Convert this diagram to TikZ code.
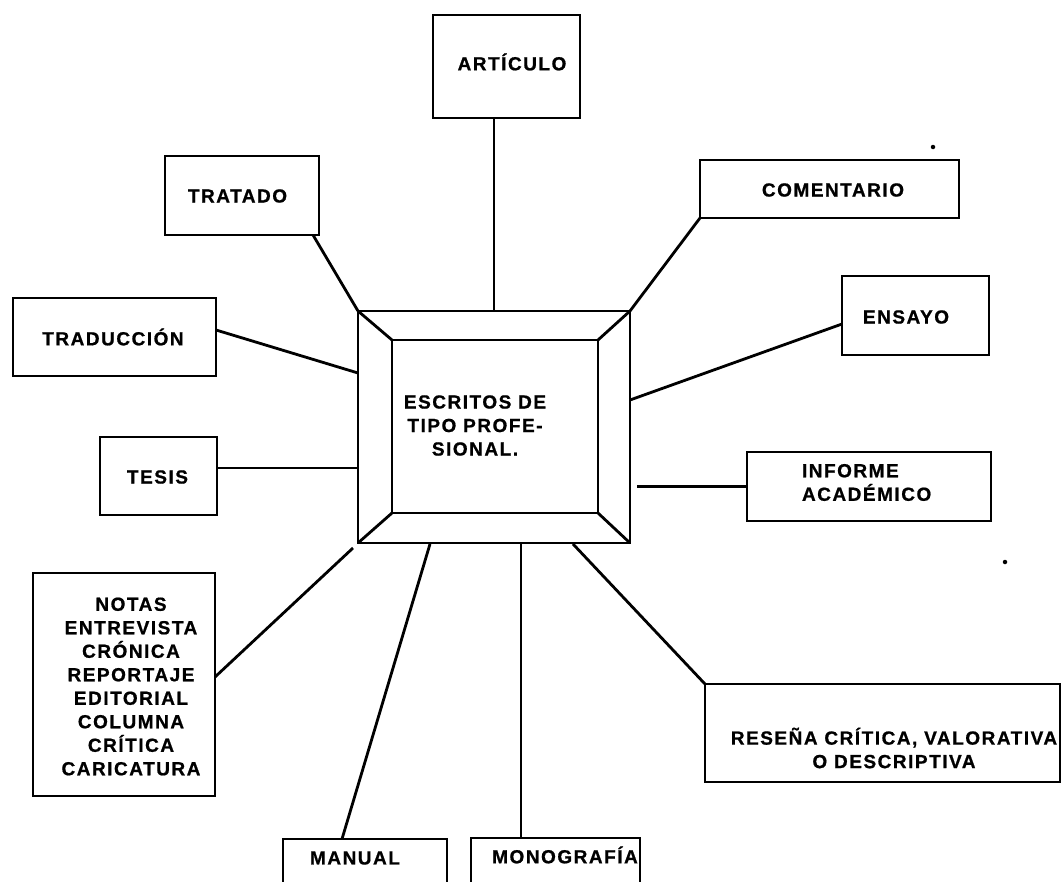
\documentclass[tikz,border=0pt]{standalone}
\usepackage{fontspec}
\setmainfont{Liberation Sans}[LetterSpace=8, BoldFeatures={FakeBold=0.8}]
\usetikzlibrary{calc}

\begin{document}
\begin{tikzpicture}[x=1pt,y=-1pt,
  line width=2.8pt,
  box/.style={draw, rectangle, inner sep=0pt, outer sep=0pt},
  lbl/.style={inner sep=0pt, outer sep=0pt, align=center,
    font=\fontsize{19pt}{23.5pt}\selectfont\bfseries},
  speck/.style={fill, circle, inner sep=0pt, minimum size=4.5pt}]

\clip (0,0) rectangle (1063,881);
\fill[white] (0,0) rectangle (1063,881);

% central bevelled frame
\node[box, minimum width=272pt, minimum height=232pt] (frame) at (494,427) {};
\node[box, minimum width=206pt, minimum height=173pt] (inner) at (495,426.5) {};
\draw (frame.north west) -- (inner.north west);
\draw (frame.north east) -- (inner.north east);
\draw (frame.south west) -- (inner.south west);
\draw (frame.south east) -- (inner.south east);
\node[lbl] (center-text) at (475,425.5) {ESCRITOS DE\\TIPO PROFE-\\SIONAL.};

% surrounding boxes
\node[box, minimum width=147pt, minimum height=103pt] (art) at (506.5,66.5) {};
\node[lbl] (art-text) at (512,62) {ARTÍCULO};

\node[box, minimum width=154pt, minimum height=79pt] (trat) at (242,195.5) {};
\node[lbl] (trat-text) at (237.5,196) {TRATADO};

\node[box, minimum width=259pt, minimum height=58pt] (com) at (829.5,189) {};
\node[lbl] (com-text) at (833,190) {COMENTARIO};

\node[box, minimum width=147pt, minimum height=79pt] (ens) at (915.5,315.5) {};
\node[lbl] (ens-text) at (906,317) {ENSAYO};

\node[box, minimum width=203pt, minimum height=78pt] (trad) at (114.5,337) {};
\node[lbl] (trad-text) at (113,337) {TRADUCCIÓN};

\node[box, minimum width=117pt, minimum height=78pt] (tes) at (158.5,476) {};
\node[lbl] (tes-text) at (157.5,477) {TESIS};

\node[box, minimum width=244pt, minimum height=69pt] (inf) at (869,486.5) {};
\node[lbl, align=left, anchor=west] (inf-text) at (802,482.5) {INFORME\\ACADÉMICO};

\node[box, minimum width=182pt, minimum height=223pt] (notas) at (124,684.5) {};
\node[lbl] (notas-text) at (131,686.5)
  {NOTAS\\ENTREVISTA\\CRÓNICA\\REPORTAJE\\EDITORIAL\\COLUMNA\\CRÍTICA\\CARICATURA};

\node[box, minimum width=164pt, minimum height=100pt] (man) at (365,889) {};
\node[lbl] (man-text) at (355,858) {MANUAL};

\node[box, minimum width=169pt, minimum height=100pt] (mono) at (555.5,888) {};
\node[lbl] (mono-text) at (565,855) {MONOGRAFÍA};

\node[box, minimum width=355pt, minimum height=98pt] (res) at (882.5,733) {};
\node[lbl] (res-text) at (894,748) {RESEÑA CRÍTICA, VALORATIVA\\O DESCRIPTIVA};

% connectors
\draw (frame.north) -- (frame.north |- art.south);
\draw ($(trat.south east)+(-6,0)$) -- (frame.north west);
\draw (com.south west) -- (frame.north east);
\draw ($(frame.east)+(0,-27)$) -- ($(ens.west)+(0,8.5)$);
\draw ($(frame.east |- inf.west)+(7,0)$) -- (inf.west);
\draw ($(trad.east)+(0,-7)$) -- ($(frame.west)+(0,-54)$);
\draw ($(tes.east)+(0,-8)$) -- ($(frame.west)+(0,41)$);
\draw ($(notas.east)+(0,-7.5)$) -- ($(frame.south west)+(-5,5)$);
\draw ($(man.north)+(-23,0)$) -- ($(frame.south)+(-64,1)$);
\coordinate (mono-in) at ($(frame.south)+(27,1)$);
\draw (mono-in) -- (mono-in |- mono.north);
\draw ($(frame.south)+(79,1)$) -- (res.north west);

% stray specks
\node[speck] (speck-a) at (933,147) {};
\node[speck] (speck-b) at (1005,562) {};
\end{tikzpicture}
\end{document}
